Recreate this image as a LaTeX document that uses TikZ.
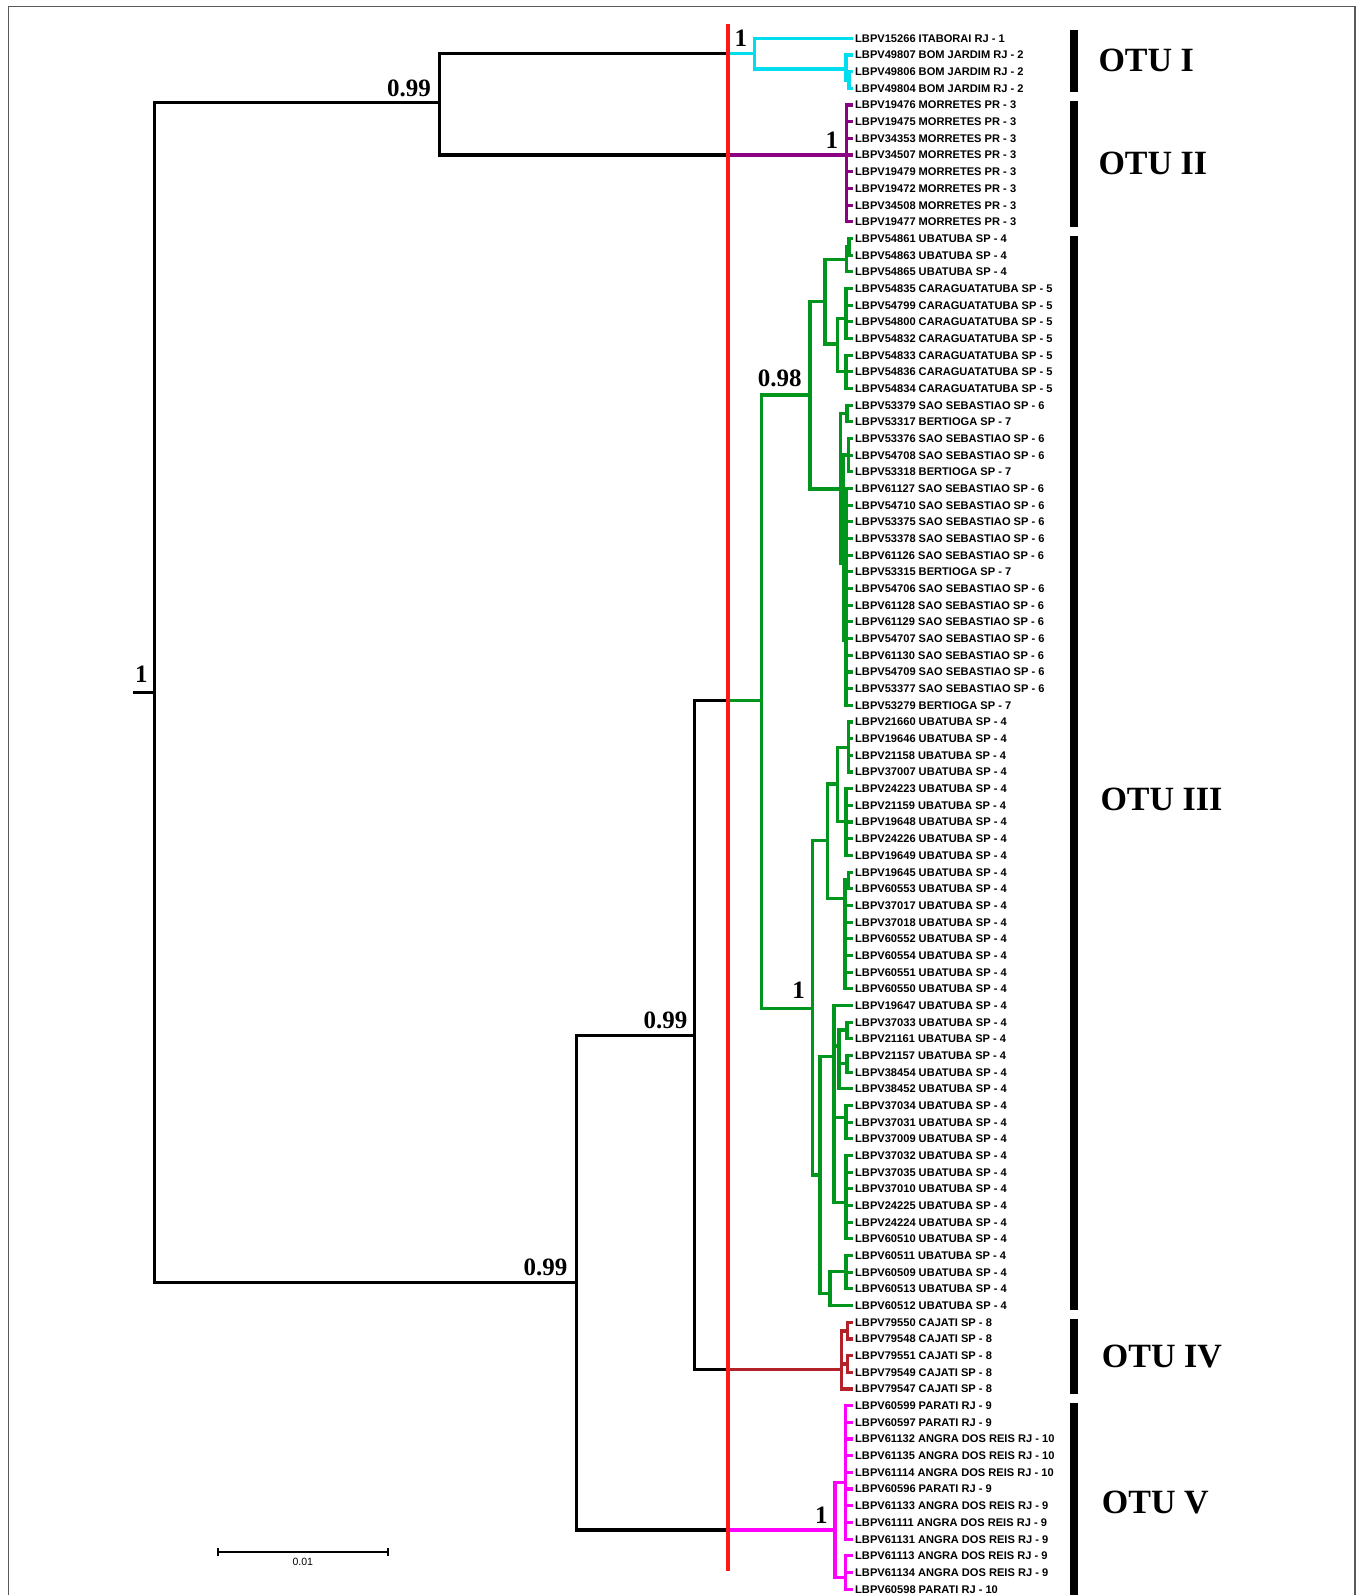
\documentclass[tikz,border=0pt]{standalone}
\usepackage{fontspec}
\setmainfont{Liberation Sans}
\newfontfamily\serifbold{Liberation Serif}
\usetikzlibrary{arrows.meta}
\definecolor{cyanT}{RGB}{0,221,238}
\definecolor{purpT}{RGB}{140,0,130}
\definecolor{greenT}{RGB}{0,150,30}
\definecolor{brownT}{RGB}{178,34,40}
\definecolor{magT}{RGB}{255,0,255}
\definecolor{redT}{RGB}{255,25,25}
\definecolor{frameT}{RGB}{90,90,90}
\begin{document}
\begin{tikzpicture}[x=1pt,y=-1pt,
  declare function={ly(\i)=38.3+16.675*(\i-1);},
  branch/.style={line width=3.1pt, line cap=rect, line join=miter},
  kb/.style={branch, black},
  cb/.style={branch, cyanT},
  pb/.style={branch, purpT},
  gb/.style={branch, greenT},
  rb/.style={branch, brownT},
  mb/.style={branch, magT},
  leaf/.style={anchor=west, inner sep=0pt, text height=7.9pt, text depth=0pt, font=\fontsize{11.1}{11.1}\selectfont\bfseries},
  suplbl/.style={anchor=base east, inner sep=0pt, text depth=0pt, font=\serifbold\bfseries\fontsize{25}{25}\selectfont},
  otulbl/.style={anchor=base west, inner sep=0pt, font=\serifbold\bfseries\fontsize{34}{34}\selectfont},
  otubar/.style={line width=8.3pt, black},
]
\useasboundingbox (0,0) rectangle (1363,1595);
% frame
\draw[frameT, line width=1.6pt] (8.3,1600) -- (8.3,6.7) -- (1355,6.7) -- (1355,1600);

% leaves
\foreach \t [count=\i] in {
LBPV15266 ITABORAI RJ - 1,
LBPV49807 BOM JARDIM RJ - 2,
LBPV49806 BOM JARDIM RJ - 2,
LBPV49804 BOM JARDIM RJ - 2,
LBPV19476 MORRETES PR - 3,
LBPV19475 MORRETES PR - 3,
LBPV34353 MORRETES PR - 3,
LBPV34507 MORRETES PR - 3,
LBPV19479 MORRETES PR - 3,
LBPV19472 MORRETES PR - 3,
LBPV34508 MORRETES PR - 3,
LBPV19477 MORRETES PR - 3,
LBPV54861 UBATUBA SP - 4,
LBPV54863 UBATUBA SP - 4,
LBPV54865 UBATUBA SP - 4,
LBPV54835 CARAGUATATUBA SP - 5,
LBPV54799 CARAGUATATUBA SP - 5,
LBPV54800 CARAGUATATUBA SP - 5,
LBPV54832 CARAGUATATUBA SP - 5,
LBPV54833 CARAGUATATUBA SP - 5,
LBPV54836 CARAGUATATUBA SP - 5,
LBPV54834 CARAGUATATUBA SP - 5,
LBPV53379 SAO SEBASTIAO SP - 6,
LBPV53317 BERTIOGA SP - 7,
LBPV53376 SAO SEBASTIAO SP - 6,
LBPV54708 SAO SEBASTIAO SP - 6,
LBPV53318 BERTIOGA SP - 7,
LBPV61127 SAO SEBASTIAO SP - 6,
LBPV54710 SAO SEBASTIAO SP - 6,
LBPV53375 SAO SEBASTIAO SP - 6,
LBPV53378 SAO SEBASTIAO SP - 6,
LBPV61126 SAO SEBASTIAO SP - 6,
LBPV53315 BERTIOGA SP - 7,
LBPV54706 SAO SEBASTIAO SP - 6,
LBPV61128 SAO SEBASTIAO SP - 6,
LBPV61129 SAO SEBASTIAO SP - 6,
LBPV54707 SAO SEBASTIAO SP - 6,
LBPV61130 SAO SEBASTIAO SP - 6,
LBPV54709 SAO SEBASTIAO SP - 6,
LBPV53377 SAO SEBASTIAO SP - 6,
LBPV53279 BERTIOGA SP - 7,
LBPV21660 UBATUBA SP - 4,
LBPV19646 UBATUBA SP - 4,
LBPV21158 UBATUBA SP - 4,
LBPV37007 UBATUBA SP - 4,
LBPV24223 UBATUBA SP - 4,
LBPV21159 UBATUBA SP - 4,
LBPV19648 UBATUBA SP - 4,
LBPV24226 UBATUBA SP - 4,
LBPV19649 UBATUBA SP - 4,
LBPV19645 UBATUBA SP - 4,
LBPV60553 UBATUBA SP - 4,
LBPV37017 UBATUBA SP - 4,
LBPV37018 UBATUBA SP - 4,
LBPV60552 UBATUBA SP - 4,
LBPV60554 UBATUBA SP - 4,
LBPV60551 UBATUBA SP - 4,
LBPV60550 UBATUBA SP - 4,
LBPV19647 UBATUBA SP - 4,
LBPV37033 UBATUBA SP - 4,
LBPV21161 UBATUBA SP - 4,
LBPV21157 UBATUBA SP - 4,
LBPV38454 UBATUBA SP - 4,
LBPV38452 UBATUBA SP - 4,
LBPV37034 UBATUBA SP - 4,
LBPV37031 UBATUBA SP - 4,
LBPV37009 UBATUBA SP - 4,
LBPV37032 UBATUBA SP - 4,
LBPV37035 UBATUBA SP - 4,
LBPV37010 UBATUBA SP - 4,
LBPV24225 UBATUBA SP - 4,
LBPV24224 UBATUBA SP - 4,
LBPV60510 UBATUBA SP - 4,
LBPV60511 UBATUBA SP - 4,
LBPV60509 UBATUBA SP - 4,
LBPV60513 UBATUBA SP - 4,
LBPV60512 UBATUBA SP - 4,
LBPV79550 CAJATI SP - 8,
LBPV79548 CAJATI SP - 8,
LBPV79551 CAJATI SP - 8,
LBPV79549 CAJATI SP - 8,
LBPV79547 CAJATI SP - 8,
LBPV60599 PARATI RJ - 9,
LBPV60597 PARATI RJ - 9,
LBPV61132 ANGRA DOS REIS RJ - 10,
LBPV61135 ANGRA DOS REIS RJ - 10,
LBPV61114 ANGRA DOS REIS RJ - 10,
LBPV60596 PARATI RJ - 9,
LBPV61133 ANGRA DOS REIS RJ - 9,
LBPV61111 ANGRA DOS REIS RJ - 9,
LBPV61131 ANGRA DOS REIS RJ - 9,
LBPV61113 ANGRA DOS REIS RJ - 9,
LBPV61134 ANGRA DOS REIS RJ - 9,
LBPV60598 PARATI RJ - 10}{
  \coordinate (t\i) at (851,{ly(\i)});
  \node[leaf] (n\i) at (855,{ly(\i)}) {\t};
}

% internal nodes
\coordinate (Rs) at (135,692.7);
\coordinate (R) at (154.6,692.7);
\coordinate (A) at (439.4,102.7);
\coordinate (B) at (576.8,1282.7);
\coordinate (xC1) at (728,53.3);
\coordinate (C1) at (754.3,53.3);
\coordinate (D1) at (846,69);
\coordinate (D2) at (849,80);
\coordinate (xC2) at (728,155);
\coordinate (C2) at (846.7,155);
\coordinate (E) at (694.7,1035.5);
\coordinate (xG) at (728,700.9);
\coordinate (G) at (761.7,700.9);
\coordinate (xIV) at (728,1369.3);
\coordinate (IV) at (841.7,1369.3);
\coordinate (xV) at (728,1530);
\coordinate (V) at (835,1530);
% green upper
\coordinate (H) at (810,395);
\coordinate (H1) at (825,301.7);
\coordinate (H11) at (846.7,259.2);
\coordinate (P13) at (849,246.7);
\coordinate (H12) at (837.3,344);
\coordinate (H121) at (846,318.3);
\coordinate (H122) at (846,371.7);
\coordinate (H2) at (840.7,489);
\coordinate (H21) at (847,413.3);
\coordinate (H22) at (843.3,563.3);
\coordinate (S1) at (848.5,455);
\coordinate (S2) at (846,640);
% green lower
\coordinate (K) at (812.7,1008.3);
\coordinate (K1) at (827.3,840.7);
\coordinate (K11) at (837.3,784);
\coordinate (K111) at (848.3,747.3);
\coordinate (K112) at (846,821.7);
\coordinate (K12) at (845,898.3);
\coordinate (P51) at (848.5,880);
\coordinate (K2) at (820,1175);
\coordinate (K21) at (834,1056.7);
\coordinate (Q1) at (839,1046);
\coordinate (P60) at (847,1030);
\coordinate (P62) at (847,1063.3);
\coordinate (Q2) at (846,1117.7);
\coordinate (Q3) at (846,1202.7);
\coordinate (K22) at (830,1293.3);
\coordinate (Z1) at (846,1271.7);
% brown
\coordinate (P78) at (847.7,1331);
\coordinate (P80) at (847.7,1364);
% magenta
\coordinate (V1) at (845.7,1482.7);
\coordinate (V2) at (845.7,1577.3);

% backbone
\draw[kb] (Rs) -- (R);
\draw[kb] (R) |- (A);
\draw[kb] (R) |- (B);
\draw[kb] (A) |- (xC1);
\draw[kb] (A) |- (xC2);
\draw[kb] (B) |- (E);
\draw[kb] (B) |- (xV);
\draw[kb] (E) |- (xG);
\draw[kb] (E) |- (xIV);

% OTU I
\draw[cb] (xC1) -- (C1);
\draw[cb] (C1) |- (t1);
\draw[cb] (C1) |- (D1);
\draw[cb] (D1) |- (t2);
\draw[cb] (D1) |- (D2);
\draw[cb] (D2) |- (t3);
\draw[cb] (D2) |- (t4);
% OTU II
\draw[pb] (xC2) -- (C2);
\foreach \i in {5,...,12} \draw[pb] (C2) |- (t\i);
% OTU III
\draw[gb] (xG) -- (G);
\draw[gb] (G) |- (H);
\draw[gb] (G) |- (K);
\draw[gb] (H) |- (H1);
\draw[gb] (H) |- (H2);
\draw[gb] (H1) |- (H11);
\draw[gb] (H1) |- (H12);
\draw[gb] (H11) |- (P13);
\draw[gb] (P13) |- (t13);
\draw[gb] (P13) |- (t14);
\draw[gb] (H11) |- (t15);
\draw[gb] (H12) |- (H121);
\draw[gb] (H12) |- (H122);
\foreach \i in {16,...,19} \draw[gb] (H121) |- (t\i);
\foreach \i in {20,21,22} \draw[gb] (H122) |- (t\i);
\draw[gb] (H2) |- (H21);
\draw[gb] (H2) |- (H22);
\draw[gb] (H21) |- (t23);
\draw[gb] (H21) |- (t24);
\draw[gb] (H22) |- (S1);
\draw[gb] (H22) |- (S2);
\foreach \i in {25,26,27} \draw[gb] (S1) |- (t\i);
\foreach \i in {28,...,41} \draw[gb] (S2) |- (t\i);
\draw[gb] (K) |- (K1);
\draw[gb] (K) |- (K2);
\draw[gb] (K1) |- (K11);
\draw[gb] (K1) |- (K12);
\draw[gb] (K11) |- (K111);
\draw[gb] (K11) |- (K112);
\foreach \i in {42,...,45} \draw[gb] (K111) |- (t\i);
\foreach \i in {46,...,50} \draw[gb] (K112) |- (t\i);
\draw[gb] (K12) |- (P51);
\draw[gb] (P51) |- (t51);
\draw[gb] (P51) |- (t52);
\foreach \i in {53,...,58} \draw[gb] (K12) |- (t\i);
\draw[gb] (K2) |- (K21);
\draw[gb] (K2) |- (K22);
\draw[gb] (K21) |- (t59);
\draw[gb] (K21) |- (Q1);
\draw[gb] (K21) |- (Q2);
\draw[gb] (K21) |- (Q3);
\draw[gb] (Q1) |- (P60);
\draw[gb] (Q1) |- (P62);
\draw[gb] (Q1) |- (t64);
\draw[gb] (P60) |- (t60);
\draw[gb] (P60) |- (t61);
\draw[gb] (P62) |- (t62);
\draw[gb] (P62) |- (t63);
\foreach \i in {65,66,67} \draw[gb] (Q2) |- (t\i);
\foreach \i in {68,...,73} \draw[gb] (Q3) |- (t\i);
\draw[gb] (K22) |- (Z1);
\draw[gb] (K22) |- (t77);
\foreach \i in {74,75,76} \draw[gb] (Z1) |- (t\i);
% OTU IV
\draw[rb] (xIV) -- (IV);
\draw[rb] (IV) |- (P78);
\draw[rb] (IV) |- (P80);
\draw[rb] (IV) |- (t82);
\draw[rb] (P78) |- (t78);
\draw[rb] (P78) |- (t79);
\draw[rb] (P80) |- (t80);
\draw[rb] (P80) |- (t81);
% OTU V
\draw[mb] (xV) -- (V);
\draw[mb] (V) |- (V1);
\draw[mb] (V) |- (V2);
\foreach \i in {83,...,91} \draw[mb] (V1) |- (t\i);
\foreach \i in {92,93,94} \draw[mb] (V2) |- (t\i);

% red line
\coordinate (redtop) at (728,24);
\coordinate (redbot) at (728,1571);
\draw[redT, line width=4.5pt] (redtop) -- (redbot);

% support values
\node[suplbl] (sR) at ([shift={(-6.9,-10)}]R) {1};
\node[suplbl] (sA) at ([shift={(-8.4,-6.1)}]A) {0.99};
\node[suplbl] (sC1) at ([shift={(-7,-6.6)}]C1) {1};
\node[suplbl] (sC2) at ([shift={(-8.4,-6.7)}]C2) {1};
\node[suplbl] (sB) at ([shift={(-9.3,-7.2)}]B) {0.99};
\node[suplbl] (sE) at ([shift={(-7.2,-7.5)}]E) {0.99};
\node[suplbl] (sH) at ([shift={(-8.3,-8.3)}]H) {0.98};
\node[suplbl] (sK) at ([shift={(-7.7,-10)}]K) {1};
\node[suplbl] (sV) at ([shift={(-7.3,-6.7)}]V) {1};

% OTU bars and labels
\coordinate (b1t) at (1074.2,30);     \coordinate (b1b) at (1074.2,91.7);
\coordinate (b2t) at (1074.2,101);    \coordinate (b2b) at (1074.2,226.7);
\coordinate (b3t) at (1074.2,236);    \coordinate (b3b) at (1074.2,1310);
\coordinate (b4t) at (1074.2,1319.3); \coordinate (b4b) at (1074.2,1394);
\coordinate (b5t) at (1074.2,1403.3); \coordinate (b5b) at (1074.2,1600);
\draw[otubar] (b1t) -- (b1b);
\draw[otubar] (b2t) -- (b2b);
\draw[otubar] (b3t) -- (b3b);
\draw[otubar] (b4t) -- (b4b);
\draw[otubar] (b5t) -- (b5b);
\node[otulbl] (o1) at (1098.3,71.7) {OTU I};
\node[otulbl] (o2) at (1098.3,174) {OTU II};
\node[otulbl] (o3) at (1100.3,810.5) {OTU III};
\node[otulbl] (o4) at (1101.7,1367.3) {OTU IV};
\node[otulbl] (o5) at (1101.7,1513.3) {OTU V};

% scale bar
\coordinate (sbL) at (216.7,1552.3);
\coordinate (sbR) at (389,1552.3);
\draw[line width=2pt, {Bar[width=8pt]}-{Bar[width=8pt]}] (sbL) -- (sbR);
\node[inner sep=0pt, font=\fontsize{10.5}{10.5}\selectfont] (sbtxt) at (302.8,1561.7) {0.01};
\end{tikzpicture}
\end{document}
